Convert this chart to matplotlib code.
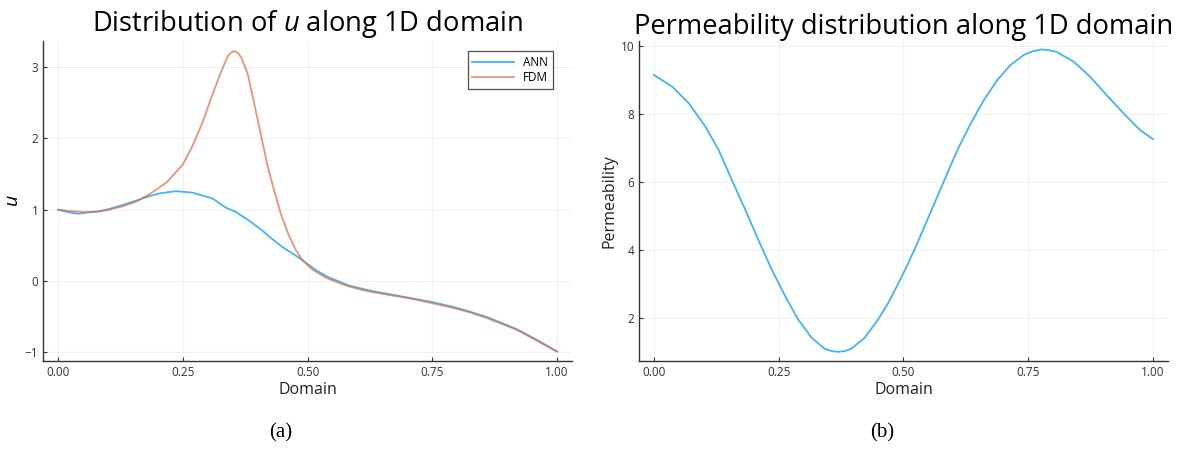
import matplotlib
matplotlib.use("Agg")
import matplotlib.pyplot as plt

plt.rcParams['font.family'] = ['Open Sans', 'DejaVu Sans']
plt.rcParams['mathtext.fontset'] = 'custom'
plt.rcParams['mathtext.it'] = 'Open Sans:italic'

# ---- Panel (a): u along 1D domain ----
fdm_x = [0.0, 0.027, 0.054, 0.08, 0.102, 0.13, 0.157, 0.183, 0.217, 0.25, 0.269, 0.29,
         0.31, 0.327, 0.34, 0.347, 0.353, 0.36, 0.367, 0.38, 0.393, 0.407, 0.42, 0.433,
         0.447, 0.462, 0.476, 0.489, 0.509, 0.536, 0.57, 0.61, 0.657, 0.71, 0.75, 0.791,
         0.826, 0.86, 0.888, 0.918, 0.956, 1.0]
fdm_u = [1.0, 0.98, 0.967, 0.975, 1.0, 1.05, 1.116, 1.218, 1.38, 1.635, 1.89, 2.235,
         2.63, 2.94, 3.155, 3.205, 3.225, 3.2, 3.135, 2.905, 2.49, 2.03, 1.61, 1.27,
         0.93, 0.65, 0.44, 0.30, 0.165, 0.05, -0.046, -0.127, -0.187, -0.248, -0.31, -0.375,
         -0.44, -0.52, -0.595, -0.678, -0.82, -0.99]

ann_x = [0.0, 0.019, 0.04, 0.061, 0.081, 0.102, 0.136, 0.171, 0.183, 0.203, 0.236,
         0.269, 0.309, 0.336, 0.356, 0.382, 0.409, 0.429, 0.449, 0.476, 0.496, 0.516,
         0.543, 0.584, 0.626, 0.657, 0.708, 0.75, 0.791, 0.819, 0.86, 0.888, 0.918,
         0.956, 1.0]
ann_u = [1.0, 0.967, 0.944, 0.963, 0.977, 1.01, 1.08, 1.163, 1.19, 1.23, 1.26,
         1.24, 1.16, 1.03, 0.97, 0.85, 0.71, 0.59, 0.48, 0.36, 0.26, 0.155,
         0.05, -0.065, -0.135, -0.175, -0.24, -0.295, -0.36, -0.415, -0.505, -0.585, -0.67,
         -0.81, -0.985]

# ---- Panel (b): permeability ----
perm_x = [0.0, 0.0366, 0.0698, 0.103, 0.1296, 0.156, 0.183, 0.209, 0.236, 0.263, 0.289,
          0.316, 0.342, 0.356, 0.369, 0.382, 0.395, 0.422, 0.449, 0.47, 0.4885, 0.505,
          0.522, 0.555, 0.582, 0.608, 0.635, 0.661, 0.688, 0.714, 0.741, 0.759, 0.777,
          0.792, 0.807, 0.841, 0.874, 0.907, 0.941, 0.974, 1.0]
perm_k = [9.148, 8.805, 8.316, 7.63, 6.94, 6.06, 5.18, 4.30, 3.42, 2.635, 1.95,
          1.41, 1.09, 1.02, 1.0, 1.02, 1.09, 1.41, 1.95, 2.45, 2.98, 3.47,
          4.01, 5.13, 6.06, 6.94, 7.73, 8.41, 9.0, 9.44, 9.74, 9.85, 9.90,
          9.88, 9.83, 9.54, 9.10, 8.56, 8.02, 7.53, 7.26]

xticks = [0.0, 0.25, 0.5, 0.75, 1.0]
xticklabels = ["0.00", "0.25", "0.50", "0.75", "1.00"]
u_ticks = [-1, 0, 1, 2, 3]
perm_ticks = [2, 4, 6, 8, 10]

blue = "#009AFA"
orange = "#E36F47"

fig = plt.figure(figsize=(11.94, 4.51), dpi=100)
ax1 = fig.add_axes([0.0362, 0.1996, 0.4428, 0.7102])
ax2 = fig.add_axes([0.5352, 0.1996, 0.4430, 0.7102])

def style(ax):
    for s in ['top', 'right']:
        ax.spines[s].set_visible(False)
    for s in ['left', 'bottom']:
        ax.spines[s].set_color('#333333')
        ax.spines[s].set_linewidth(1.0)
    ax.grid(True, color='black', alpha=0.05, linewidth=0.8)
    ax.set_axisbelow(True)
    ax.tick_params(direction='in', length=3, width=0.8, colors='#333333',
                   labelsize=8.5, labelcolor='#333333')
    ax.set_xticks(xticks)
    ax.set_xticklabels(xticklabels)
    ax.set_xlim(-0.03, 1.03)
    ax.set_xlabel("Domain", fontsize=11.5, color='#222222', labelpad=2)

ax1.plot(ann_x, ann_u, color=blue, lw=1.3, label="ANN", alpha=0.75)
ax1.plot(fdm_x, fdm_u, color=orange, lw=1.3, label="FDM", alpha=0.75)
style(ax1)
ax1.set_yticks(u_ticks)
ax1.set_ylim(-1.12, 3.37)
ax1.set_ylabel("$u$", fontsize=14, labelpad=2)
ax1.set_title("Distribution of $u$ along 1D domain", fontsize=19.7, pad=7)
leg = ax1.legend(loc='upper right', bbox_to_anchor=(0.975, 0.985), fontsize=8.5,
                 frameon=True, fancybox=False, edgecolor='#222222',
                 handlelength=3.5, borderpad=0.4, labelspacing=0.2)
leg.get_frame().set_linewidth(0.9)

ax2.plot(perm_x, perm_k, color=blue, lw=1.3, alpha=0.75)
style(ax2)
ax2.set_yticks(perm_ticks)
ax2.set_ylim(0.73, 10.16)
ax2.set_ylabel("Permeability", fontsize=11.5, color='#222222', labelpad=2)
ax2.set_title("Permeability distribution along 1D domain", fontsize=19.7, pad=4)

fig.text(281/1194, 1 - 433/451, "(a)", fontsize=15, family='Liberation Serif',
         ha='center', va='center')
fig.text(882/1194, 1 - 433/451, "(b)", fontsize=15, family='Liberation Serif',
         ha='center', va='center')

fig.savefig("out.png", dpi=100)
